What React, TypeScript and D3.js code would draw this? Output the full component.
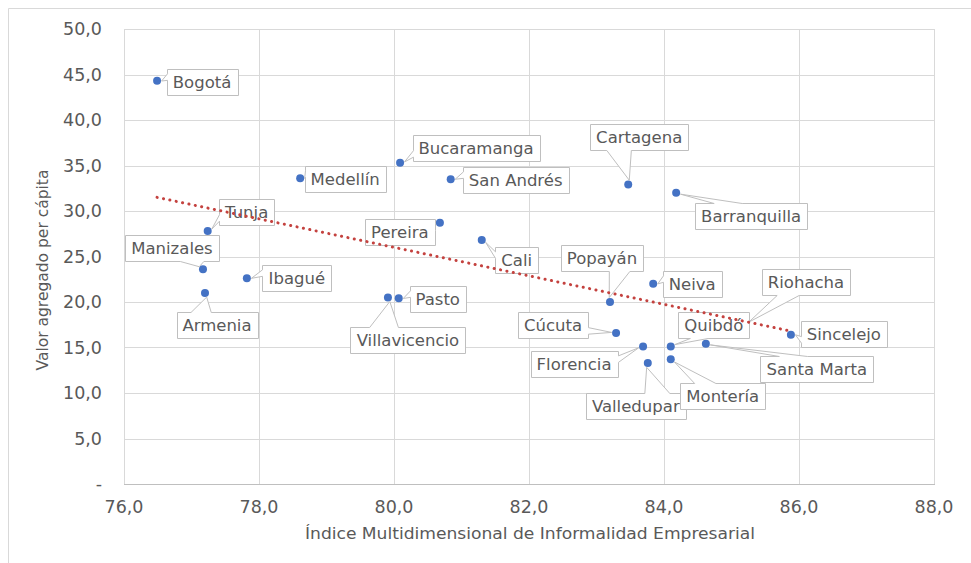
import React, { useEffect, useRef } from "react";
import * as d3 from "d3";

// ---------- Data ----------
const cities = [
  "Bogotá", "Tunja", "Manizales", "Armenia", "Ibagué", "Medellín", "Bucaramanga",
  "San Andrés", "Pereira", "Cali", "Villavicencio", "Pasto", "Cartagena", "Barranquilla",
  "Popayán", "Neiva", "Cúcuta", "Florencia", "Valledupar", "Riohacha", "Quibdó",
  "Montería", "Santa Marta", "Sincelejo",
];
const informalidad = [
  76.49, 77.24, 77.17, 77.2, 77.82, 78.61, 80.09,
  80.84, 80.68, 81.3, 79.91, 80.07, 83.47, 84.18,
  83.2, 83.84, 83.29, 83.69, 83.76, 85.2, 84.1,
  84.1, 84.62, 85.88,
];
const valorAgregado = [
  44.3, 27.8, 23.6, 21.0, 22.6, 33.6, 35.3,
  33.5, 28.7, 26.8, 20.5, 20.4, 32.9, 32.0,
  20.0, 22.0, 16.6, 15.1, 13.3, 17.5, 15.1,
  13.7, 15.4, 16.4,
];
const xTicks = [76, 78, 80, 82, 84, 86, 88];
const yTicks = [0, 5, 10, 15, 20, 25, 30, 35, 40, 45, 50];
const trendX = [76.49, 85.88];
const trendY = [31.5, 16.8];
const xTitle = "Índice Multidimensional de Informalidad Empresarial";
const yTitle = "Valor agregado per cápita";

// layout: label centre offsets in pixels from each point
const labelOffsets: [number, number][] = [
  [45, 1], [39, -19], [-31, -21], [12, 32], [50, 0], [45, 1], [76, -15],
  [65, 1], [-40, 9], [35, 20], [20, 43], [39, 1], [11, -48], [75, 23],
  [-8, -44], [39, 0], [-63, -8], [-69, 17], [-12, 43], [61, -43], [43, -22],
  [52, 37], [111, 25], [53, -1],
];

const W = 971;
const H = 563;
const PL = 124, PR = 934, PT = 29, PB = 484;
const FONT = "'DejaVu Sans', Verdana, sans-serif";
const TXT = "#595959";

function calloutPath(x0: number, y0: number, w: number, h: number, px: number, py: number, r: number) {
  const cx = x0 + w / 2, cy = y0 + h / 2;
  const dx = px - cx, dy = py - cy;
  const inside = Math.abs(dx) <= w / 2 + 2 && Math.abs(dy) <= h / 2 + 2;
  let d = `M${x0},${y0}`;
  if (inside) {
    return `M${x0},${y0}H${x0 + w}V${y0 + h}H${x0}Z`;
  }
  const dist = Math.hypot(dx, dy);
  // tip stops at edge of marker
  const tx = px - (dx / dist) * (r + 0.5);
  const ty = py - (dy / dist) * (r + 0.5);
  const horiz = Math.abs(dx) / w > Math.abs(dy) / h;
  const a = dx < 0 ? [w / 6, (5 * w) / 12] : [(7 * w) / 12, (5 * w) / 6];
  const b = dy < 0 ? [h / 6, (5 * h) / 12] : [(7 * h) / 12, (5 * h) / 6];
  if (!horiz && dy < 0) d += `L${x0 + a[0]},${y0}L${tx},${ty}L${x0 + a[1]},${y0}`;
  d += `L${x0 + w},${y0}`;
  if (horiz && dx > 0) d += `L${x0 + w},${y0 + b[0]}L${tx},${ty}L${x0 + w},${y0 + b[1]}`;
  d += `L${x0 + w},${y0 + h}`;
  if (!horiz && dy > 0) d += `L${x0 + a[1]},${y0 + h}L${tx},${ty}L${x0 + a[0]},${y0 + h}`;
  d += `L${x0},${y0 + h}`;
  if (horiz && dx < 0) d += `L${x0},${y0 + b[1]}L${tx},${ty}L${x0},${y0 + b[0]}`;
  d += "Z";
  return d;
}

export default function App() {
  const ref = useRef<SVGSVGElement>(null);

  useEffect(() => {
    const svg = d3.select(ref.current);
    svg.selectAll("*").remove();

    const x = d3.scaleLinear().domain([76, 88]).range([PL, PR]);
    const y = d3.scaleLinear().domain([0, 50]).range([PB, PT]);
    const fmt = (v: number) => (v === 0 ? "-" : d3.format(".1f")(v).replace(".", ","));

    svg.append("rect").attr("width", W).attr("height", H).attr("fill", "#fff");
    // chart area border (top & left visible)
    svg.append("path").attr("d", `M8.5,${H + 2}V8.5H${W + 2}`)
      .attr("fill", "none").attr("stroke", "#D9D9D9").attr("stroke-width", 1);

    // gridlines
    const grid = svg.append("g");
    grid.selectAll("line.h").data(yTicks.filter((t) => t > 0)).enter().append("line")
      .attr("x1", PL).attr("x2", PR)
      .attr("y1", (d) => Math.round(y(d)) + 0.5).attr("y2", (d) => Math.round(y(d)) + 0.5)
      .attr("stroke", "#D9D9D9").attr("stroke-width", 1);
    grid.selectAll("line.v").data(xTicks).enter().append("line")
      .attr("y1", PT).attr("y2", PB)
      .attr("x1", (d) => Math.round(x(d)) + 0.5).attr("x2", (d) => Math.round(x(d)) + 0.5)
      .attr("stroke", "#D9D9D9").attr("stroke-width", 1);
    // x axis line
    svg.append("line").attr("x1", PL).attr("x2", PR + 1)
      .attr("y1", Math.round(y(0)) + 0.5).attr("y2", Math.round(y(0)) + 0.5)
      .attr("stroke", "#BFBFBF").attr("stroke-width", 1);

    // tick labels
    svg.append("g").selectAll("text").data(yTicks).enter().append("text")
      .attr("x", 102).attr("y", (d) => y(d) + 6)
      .attr("text-anchor", "end").attr("font-family", FONT).attr("font-size", 17.5)
      .attr("fill", TXT).text((d) => fmt(d));
    svg.append("g").selectAll("text").data(xTicks).enter().append("text")
      .attr("x", (d) => x(d)).attr("y", 513)
      .attr("text-anchor", "middle").attr("font-family", FONT).attr("font-size", 17.5)
      .attr("fill", TXT).text((d) => fmt(d));

    // axis titles
    svg.append("text").attr("x", 530).attr("y", 539)
      .attr("text-anchor", "middle").attr("font-family", "'DejaVu Sans Condensed', 'DejaVu Sans', sans-serif")
      .attr("font-size", 16).attr("fill", TXT)
      .attr("textLength", 450).attr("lengthAdjust", "spacingAndGlyphs").text(xTitle);
    svg.append("text")
      .attr("transform", `translate(48,270) rotate(-90)`)
      .attr("text-anchor", "middle").attr("font-family", FONT).attr("font-size", 15.5)
      .attr("fill", TXT).text(yTitle);

    // markers
    const R = 4;
    svg.append("g").selectAll("circle").data(cities).enter().append("circle")
      .attr("cx", (_d, i) => x(informalidad[i]))
      .attr("cy", (_d, i) => y(valorAgregado[i]))
      .attr("r", R).attr("fill", "#4472C4");

    // labels
    const lg = svg.append("g");
    cities.forEach((name, i) => {
      const px = x(informalidad[i]);
      const py = y(valorAgregado[i]);
      const cx = px + labelOffsets[i][0];
      const cy = py + labelOffsets[i][1];
      const g = lg.append("g");
      const path = g.append("path").attr("fill", "#fff").attr("stroke", "#BFBFBF").attr("stroke-width", 1);
      const t = g.append("text").attr("x", cx).attr("y", cy + 6)
        .attr("text-anchor", "middle").attr("font-family", FONT).attr("font-size", 16.5)
        .attr("fill", TXT).text(name);
      const tw = (t.node() as SVGTextElement).getComputedTextLength();
      const w = Math.round(tw + 12);
      const h = 26;
      const x0 = Math.round(cx - w / 2) + 0.5;
      const y0 = Math.round(cy - h / 2) + 0.5;
      path.attr("d", calloutPath(x0, y0, w, h, px, py, R));
    });

    // trend line (dotted)
    const line = d3.line<number>().x((d) => x(d)).y((_d, i) => y(trendY[i]));
    svg.append("path").attr("d", line(trendX) as string)
      .attr("fill", "none").attr("stroke", "#C4423F").attr("stroke-width", 3)
      .attr("stroke-linecap", "round").attr("stroke-dasharray", "0.1 6.4");
  }, []);

  return (
    <svg
      ref={ref}
      width={W}
      height={H}
      style={{ position: "absolute", left: 0, top: 0, display: "block" }}
    />
  );
}
